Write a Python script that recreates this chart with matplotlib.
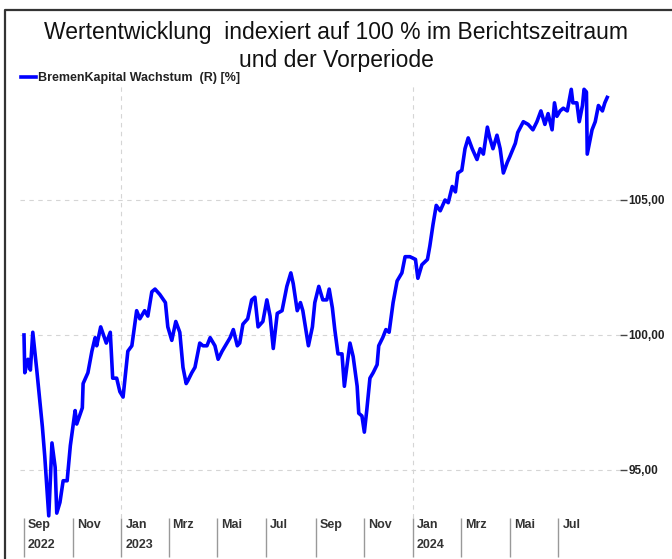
import numpy as np
import pandas as pd
import matplotlib
matplotlib.use("Agg")
import matplotlib.pyplot as plt
import matplotlib.transforms as mtransforms
from matplotlib.lines import Line2D

plt.rcParams['font.family'] = ['Liberation Sans', 'DejaVu Sans']

# ---- data ----
start_date = "2022-09-01"
day_offsets = [0, 1, 5, 8, 11, 16, 20, 23, 26, 29, 31, 35, 39, 41, 45, 49, 54, 58, 64, 66,
               73, 74, 80, 85, 89, 91, 96, 103, 108, 111, 116, 120, 124, 130, 135, 141, 145,
               151, 155, 160, 164, 170, 177, 180, 185, 190, 195, 199, 203, 205, 210, 214, 220,
               224, 229, 233, 239, 243, 248, 252, 258, 262, 267, 270, 274, 280, 285, 289, 293,
               299, 304, 308, 312, 317, 323, 329, 334, 337, 342, 346, 349, 356, 361, 364, 369,
               374, 379, 382, 386, 389, 393, 398, 401, 404, 408, 412, 417, 419, 423, 426, 429,
               433, 437, 442, 444, 449, 453, 457, 462, 467, 473, 477, 483, 490, 493, 498, 505,
               508, 512, 516, 521, 527, 531, 536, 540, 543, 548, 552, 556, 561, 567, 571, 575,
               580, 583, 587, 592, 596, 600, 605, 608, 615, 618, 625, 631, 637, 642, 647, 652,
               656, 661, 664, 667, 671, 675, 680, 685, 687, 692, 695, 699, 701, 704, 705, 711,
               715, 719, 724, 727, 730]
values = [100.0, 98.6, 99.1, 98.7, 100.1, 98.7, 97.5, 96.6, 95.5, 94.2, 93.3, 96.0, 95.1, 93.4,
          93.8, 94.6, 94.6, 95.9, 97.2, 96.7, 97.3, 98.2, 98.6, 99.4, 99.9, 99.6, 100.3, 99.7,
          100.1, 98.4, 98.4, 97.9, 97.7, 99.4, 99.6, 100.9, 100.6, 100.9, 100.7, 101.6, 101.7,
          101.5, 101.2, 100.3, 99.8, 100.5, 100.1, 98.8, 98.2, 98.3, 98.6, 98.8, 99.7, 99.6,
          99.6, 99.9, 99.6, 99.1, 99.4, 99.6, 99.9, 100.2, 99.6, 99.7, 100.4, 100.6, 101.3,
          101.4, 100.3, 100.5, 101.3, 100.7, 99.5, 100.8, 100.9, 101.8, 102.3, 101.9, 100.9,
          101.2, 100.9, 99.6, 100.3, 101.2, 101.8, 101.3, 101.3, 101.7, 101.0, 100.2, 99.3,
          99.3, 98.1, 98.8, 99.7, 99.2, 98.1, 97.1, 97.0, 96.4, 97.2, 98.4, 98.6, 98.9, 99.6,
          99.9, 100.2, 100.1, 101.2, 102.0, 102.3, 102.9, 102.9, 102.8, 102.1, 102.6, 102.8,
          103.3, 104.1, 104.8, 104.6, 105.0, 104.9, 105.5, 105.3, 106.0, 106.1, 106.9, 107.3,
          106.9, 106.5, 106.9, 106.7, 107.7, 107.3, 106.9, 107.4, 106.9, 106.0, 106.4, 106.6,
          107.1, 107.5, 107.9, 107.8, 107.6, 107.9, 108.3, 107.8, 108.2, 107.6, 108.6, 108.1,
          108.3, 108.4, 108.3, 109.1, 108.6, 108.6, 107.9, 108.5, 109.1, 109.0, 106.7, 107.6,
          107.9, 108.5, 108.3, 108.6, 108.8]
series_label = "BremenKapital Wachstum  (R) [%]"

tick_dates = ["2022-09-01", "2022-11-01", "2023-01-01", "2023-03-01", "2023-05-01",
              "2023-07-01", "2023-09-01", "2023-11-01", "2024-01-01", "2024-03-01",
              "2024-05-01", "2024-07-01"]
tick_labels = ["Sep\n2022", "Nov", "Jan\n2023", "Mrz", "Mai", "Jul", "Sep", "Nov",
               "Jan\n2024", "Mrz", "Mai", "Jul"]
year_grid_dates = ["2023-01-01", "2024-01-01"]
y_ticks = [95, 100, 105]
y_tick_labels = ["95,00", "100,00", "105,00"]

title = "Wertentwicklung  indexiert auf 100 % im Berichtszeitraum\nund der Vorperiode"

# ---- figure ----
W, H = 672, 559
fig = plt.figure(figsize=(W / 100, H / 100), dpi=100)
fig.patch.set_facecolor("white")

ax = fig.add_axes([20 / W, 1 - 518 / H, 600 / W, (518 - 85) / H])
ax.set_facecolor("white")

dates = pd.Timestamp(start_date) + pd.to_timedelta(day_offsets, unit="D")
ax.plot(dates, values, color="#0000ff", lw=2.6, solid_joinstyle="round",
        label=series_label, clip_on=False, zorder=3)

ax.set_xlim(pd.Timestamp(start_date) - pd.Timedelta(days=5),
            pd.Timestamp(start_date) + pd.Timedelta(days=746))
ax.set_ylim(93.22, 109.26)

for s in ax.spines.values():
    s.set_visible(False)

# y axis on the right
ax.yaxis.tick_right()
ax.set_yticks(y_ticks, y_tick_labels)
ax.tick_params(axis="y", length=5, width=1, color="#444444", pad=1,
               labelsize=8.5, labelcolor="#222222", left=False)
for lab in ax.get_yticklabels():
    lab.set_fontweight("bold")
for yv in y_ticks:
    ax.axhline(yv, color="#d5d5d5", lw=0.8, dashes=(4, 4), zorder=1)

# x axis
ax.set_xticks(pd.to_datetime(tick_dates), tick_labels)
ax.tick_params(axis="x", length=28, width=1, color="#999999", pad=-27.5,
               labelsize=9, labelcolor="#333333")
offset = mtransforms.ScaledTranslation(4 / 100, 0, fig.dpi_scale_trans)
for lab in ax.get_xticklabels():
    lab.set_horizontalalignment("left")
    lab.set_fontweight("bold")
    lab.set_linespacing(1.95)
    lab.set_transform(lab.get_transform() + offset)

for d in year_grid_dates:
    ax.axvline(pd.Timestamp(d), color="#d5d5d5", lw=0.8, dashes=(4, 4), zorder=1)

# title
fig.text(0.5, 1 - 21 / H, title, ha="center", va="top", fontsize=16.5,
         color="#111111", linespacing=1.3)

# legend
leg = ax.legend(loc="upper left", bbox_to_anchor=(21 / W, 1 - 72 / H),
                bbox_transform=fig.transFigure, frameon=False, handlelength=1.2,
                handletextpad=0.2, borderaxespad=0, borderpad=0,
                prop={"weight": "bold", "size": 9})
for t in leg.get_texts():
    t.set_color("#222222")

# outer frame (cropped at right and bottom)
fig.add_artist(Line2D([5 / W, 5 / W, 1.0], [0.0, 1 - 10 / H, 1 - 10 / H],
                      transform=fig.transFigure, color="#333333", lw=1.6))

fig.savefig("out.png", dpi=100)
